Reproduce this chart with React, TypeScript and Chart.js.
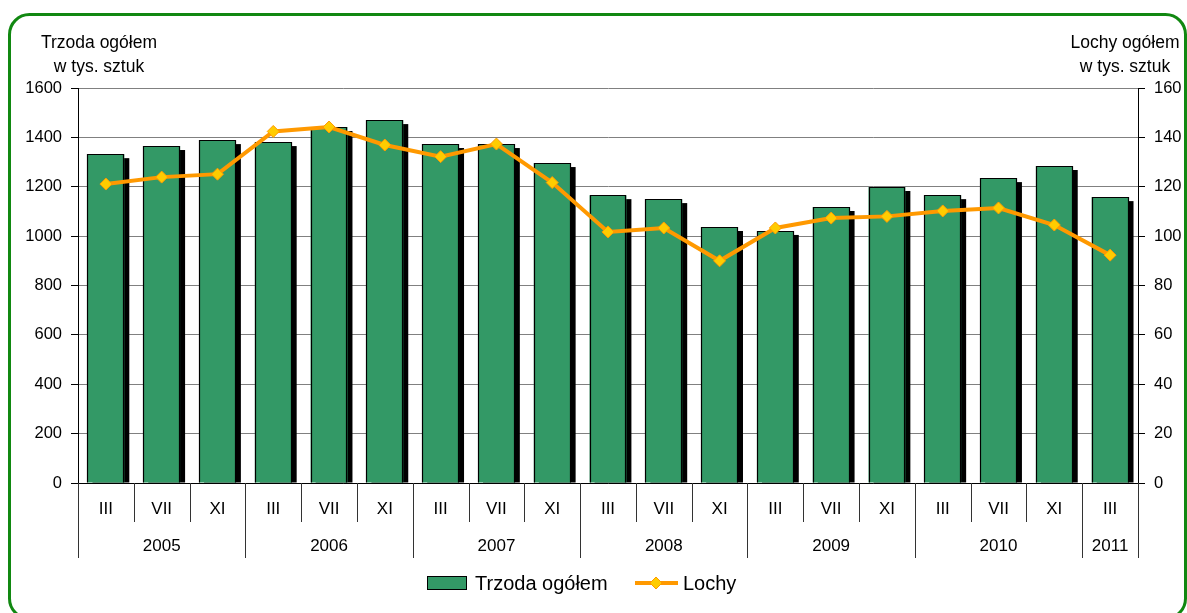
import React, { useEffect, useRef } from "react";
import { Chart, registerables } from "chart.js";
Chart.register(...registerables);

const categories = ["III", "VII", "XI", "III", "VII", "XI", "III", "VII", "XI", "III", "VII", "XI", "III", "VII", "XI", "III", "VII", "XI", "III"];
const yearLabels = ["2005", "2006", "2007", "2008", "2009", "2010", "2011"];
const yearSpans = [3, 3, 3, 3, 3, 3, 1];
const trzoda = [1332, 1365, 1389, 1381, 1442, 1470, 1373, 1373, 1296, 1166, 1150, 1037, 1021, 1118, 1199, 1166, 1235, 1284, 1158];
const lochy = [121.1, 123.9, 125.1, 142.4, 144.2, 136.9, 132.2, 137.3, 121.7, 101.7, 103.3, 90.0, 103.3, 107.3, 108.0, 110.2, 111.4, 104.5, 92.3];
const leftMax = 1600;
const leftStep = 200;
const rightMax = 160;
const rightStep = 20;
const leftTitle = ["Trzoda ogółem", "w tys. sztuk"];
const rightTitle = ["Lochy ogółem", "w tys. sztuk"];

const FONT = "'Liberation Sans', Arial, sans-serif";
const GREEN = "#339966";
const ORANGE = "#FF9900";
const MARKER = "#FFCC00";

export default function App() {
  const ref = useRef<HTMLCanvasElement>(null);

  useEffect(() => {
    const canvas = ref.current;
    if (!canvas) return;

    const framePlugin = {
      id: "frame",
      beforeDraw(chart: any) {
        const ctx = chart.ctx;
        ctx.save();
        ctx.fillStyle = "#fff";
        ctx.fillRect(0, 0, chart.width, chart.height);
        ctx.strokeStyle = "#118811";
        ctx.lineWidth = 3;
        ctx.beginPath();
        ctx.roundRect(9.5, 14.5, 1176, 604, 20);
        ctx.stroke();
        ctx.restore();
      },
    };

    const shadowPlugin = {
      id: "shadow",
      beforeDatasetsDraw(chart: any) {
        const meta = chart.getDatasetMeta(0);
        const ctx = chart.ctx;
        ctx.save();
        ctx.fillStyle = "#000";
        meta.data.forEach((bar: any) => {
          const p = bar.getProps(["x", "y", "base", "width"], true);
          ctx.fillRect(p.x - p.width / 2 + 5, p.y + 4, p.width, p.base - p.y - 4);
        });
        ctx.restore();
      },
      afterDatasetDraw(chart: any, args: any) {
        if (args.index !== 0) return;
        const meta = chart.getDatasetMeta(0);
        const ctx = chart.ctx;
        ctx.save();
        ctx.strokeStyle = "#000";
        ctx.lineWidth = 1.2;
        meta.data.forEach((bar: any) => {
          const p = bar.getProps(["x", "y", "base", "width"], true);
          const l = Math.round(p.x - p.width / 2) + 0.5;
          const r = Math.round(p.x + p.width / 2) - 0.5;
          const t = Math.round(p.y) + 0.5;
          ctx.beginPath();
          ctx.moveTo(l, p.base);
          ctx.lineTo(l, t);
          ctx.lineTo(r, t);
          ctx.lineTo(r, p.base);
          ctx.stroke();
        });
        ctx.restore();
      },
    };

    const decorPlugin = {
      id: "decor",
      afterDraw(chart: any) {
        const ctx = chart.ctx;
        const { left, right, bottom } = chart.chartArea;
        const n = categories.length;
        const w = (right - left) / n;
        ctx.save();
        const yearBounds = new Set<number>([0]);
        let acc = 0;
        yearSpans.forEach((s) => {
          acc += s;
          yearBounds.add(acc);
        });
        ctx.strokeStyle = "#333";
        ctx.lineWidth = 1;
        for (let i = 0; i <= n; i++) {
          const x = Math.round(left + i * w) + 0.5;
          const len = yearBounds.has(i) ? 75 : 39;
          ctx.beginPath();
          ctx.moveTo(x, bottom);
          ctx.lineTo(x, bottom + len);
          ctx.stroke();
        }
        ctx.fillStyle = "#000";
        ctx.font = `17px ${FONT}`;
        ctx.textAlign = "center";
        ctx.textBaseline = "middle";
        categories.forEach((c, i) => {
          ctx.fillText(c, left + (i + 0.5) * w, bottom + 26);
        });
        let start = 0;
        yearLabels.forEach((y, k) => {
          const span = yearSpans[k];
          ctx.fillText(y, left + (start + span / 2) * w, bottom + 63);
          start += span;
        });

        ctx.font = `17.5px ${FONT}`;
        ctx.textAlign = "center";
        ctx.fillText(leftTitle[0], 99, 43);
        ctx.fillText(leftTitle[1], 99, 67);
        ctx.fillText(rightTitle[0], 1125, 43);
        ctx.fillText(rightTitle[1], 1125, 67);

        const ly = 583;
        ctx.font = `20px ${FONT}`;
        ctx.textAlign = "left";
        ctx.fillStyle = GREEN;
        ctx.fillRect(427.5, 576.5, 39, 13);
        ctx.strokeStyle = "#000";
        ctx.lineWidth = 1;
        ctx.strokeRect(427.5, 576.5, 39, 13);
        ctx.fillStyle = "#000";
        ctx.fillText(chart.data.datasets[0].label, 475, ly + 1);
        ctx.strokeStyle = ORANGE;
        ctx.lineWidth = 4;
        ctx.beginPath();
        ctx.moveTo(635, ly);
        ctx.lineTo(678, ly);
        ctx.stroke();
        ctx.fillStyle = MARKER;
        ctx.strokeStyle = ORANGE;
        ctx.lineWidth = 1;
        ctx.beginPath();
        ctx.moveTo(656, ly - 6);
        ctx.lineTo(662, ly);
        ctx.lineTo(656, ly + 6);
        ctx.lineTo(650, ly);
        ctx.closePath();
        ctx.fill();
        ctx.stroke();
        ctx.fillStyle = "#000";
        ctx.fillText(chart.data.datasets[1].label, 683, ly + 1);
        ctx.restore();
      },
    };

    const chart = new Chart(canvas, {
      type: "bar",
      data: {
        labels: categories,
        datasets: [
          {
            type: "bar",
            label: "Trzoda ogółem",
            data: trzoda,
            backgroundColor: GREEN,
            borderWidth: 0,
            categoryPercentage: 1,
            barPercentage: 0.66,
            yAxisID: "y",
            order: 1,
          },
          {
            type: "line",
            label: "Lochy",
            data: lochy,
            borderColor: ORANGE,
            borderWidth: 4,
            pointStyle: "rectRot",
            pointRadius: 6,
            pointBackgroundColor: MARKER,
            pointBorderColor: ORANGE,
            pointBorderWidth: 1,
            yAxisID: "y1",
            order: 0,
            tension: 0,
          } as any,
        ],
      },
      options: {
        responsive: false,
        animation: false,
        layout: { padding: { top: 88, left: 0, right: 0, bottom: 0 } },
        plugins: { legend: { display: false }, tooltip: { enabled: false } },
        scales: {
          x: {
            type: "category",
            ticks: { display: false },
            grid: { display: false },
            border: { display: true, color: "#000" },
            afterFit: (s: any) => {
              s.height = 130;
            },
          },
          y: {
            position: "left",
            min: 0,
            max: leftMax,
            ticks: {
              stepSize: leftStep,
              color: "#000",
              font: { family: FONT, size: 16.5 },
              padding: 9,
              callback: (v: any) => String(v),
            },
            grid: { color: "#808080", tickColor: "#000", tickLength: 7 },
            border: { color: "#000" },
            afterFit: (s: any) => {
              s.width = 78;
            },
          },
          y1: {
            position: "right",
            min: 0,
            max: rightMax,
            ticks: {
              stepSize: rightStep,
              color: "#000",
              font: { family: FONT, size: 16.5 },
              padding: 9,
              callback: (v: any) => String(v),
            },
            grid: { drawOnChartArea: false, tickColor: "#000", tickLength: 7 },
            border: { color: "#000" },
            afterFit: (s: any) => {
              s.width = 49;
            },
          },
        },
      },
      plugins: [framePlugin, shadowPlugin, decorPlugin],
    });
    return () => chart.destroy();
  }, []);

  return (
    <div style={{ position: "fixed", left: 0, top: 0, width: 1187, height: 613, background: "#fff" }}>
      <canvas ref={ref} width={1187} height={613} style={{ display: "block" }} />
    </div>
  );
}
